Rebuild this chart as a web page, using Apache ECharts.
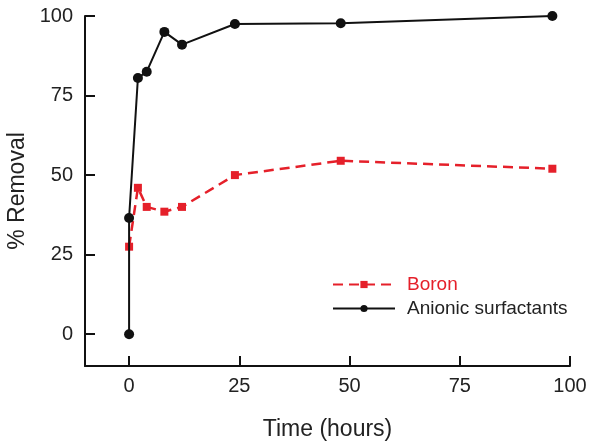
<!DOCTYPE html>
<html>
<head>
<meta charset="utf-8">
<script src="https://cdn.jsdelivr.net/npm/echarts@6/dist/echarts.min.js"></script>
<style>
  html, body { margin: 0; padding: 0; background: #fff; }
  #chart { width: 594px; height: 442px; }
</style>
</head>
<body>
<div id="chart"></div>
<script>
// Removal over time for boron and anionic surfactants
const boronHours = [0, 2, 4, 8, 12, 24, 48, 96];
const boronRemoval = [27.5, 46, 40, 38.5, 40, 50, 54.5, 52];
const surfactantHours = [0, 0, 2, 4, 8, 12, 24, 48, 96];
const surfactantRemoval = [0, 36.5, 80.5, 82.5, 95, 91, 97.5, 97.7, 100];
const tickValues = [0, 25, 50, 75, 100];

const FONT = 'Liberation Sans, Arial, sans-serif';
const RED = '#e5202a';

const chart = echarts.init(document.getElementById('chart'), null, { renderer: 'canvas' });

const axisCommon = {
  type: 'value',
  min: -10,
  max: 100,
  axisLine: { show: true, onZero: false, lineStyle: { color: '#111', width: 2 } },
  axisTick: { show: true, inside: true, length: 10, customValues: tickValues, lineStyle: { color: '#111', width: 2 } },
  axisLabel: { customValues: tickValues, color: '#222', fontFamily: FONT, fontSize: 20 },
  splitLine: { show: false },
  nameLocation: 'middle',
  nameTextStyle: { color: '#222', fontFamily: FONT, fontSize: 23 }
};

chart.setOption({
  animation: false,
  backgroundColor: '#fff',
  grid: { left: 85, right: 24, top: 16, bottom: 76, containLabel: false, outerBoundsMode: 'none' },
  xAxis: Object.assign({}, axisCommon, {
    name: 'Time (hours)',
    nameGap: 52,
    axisLabel: Object.assign({}, axisCommon.axisLabel, { margin: 10 })
  }),
  yAxis: Object.assign({}, axisCommon, {
    name: '% Removal',
    nameGap: 46,
    axisLabel: Object.assign({}, axisCommon.axisLabel, { margin: 12 })
  }),
  legend: {
    orient: 'vertical',
    left: 327,
    top: 270,
    itemWidth: 62,
    itemHeight: 9,
    itemGap: 5,
    textStyle: { fontFamily: FONT, fontSize: 19, color: '#222', padding: [0, 0, 0, 7] },
    data: [
      { name: 'Boron', textStyle: { color: RED } },
      { name: 'Anionic surfactants', textStyle: { color: '#222' } }
    ]
  },
  series: [
    {
      name: 'Boron',
      type: 'line',
      data: boronHours.map((h, i) => [h, boronRemoval[i]]),
      symbol: 'rect',
      symbolSize: 8,
      itemStyle: { color: RED },
      lineStyle: { color: RED, width: 2.5, type: [10, 6] },
      z: 2
    },
    {
      name: 'Anionic surfactants',
      type: 'line',
      data: surfactantHours.map((h, i) => [h, surfactantRemoval[i]]),
      symbol: 'circle',
      symbolSize: 10,
      itemStyle: { color: '#111' },
      lineStyle: { color: '#111', width: 2 },
      z: 3
    }
  ]
});
</script>
</body>
</html>
